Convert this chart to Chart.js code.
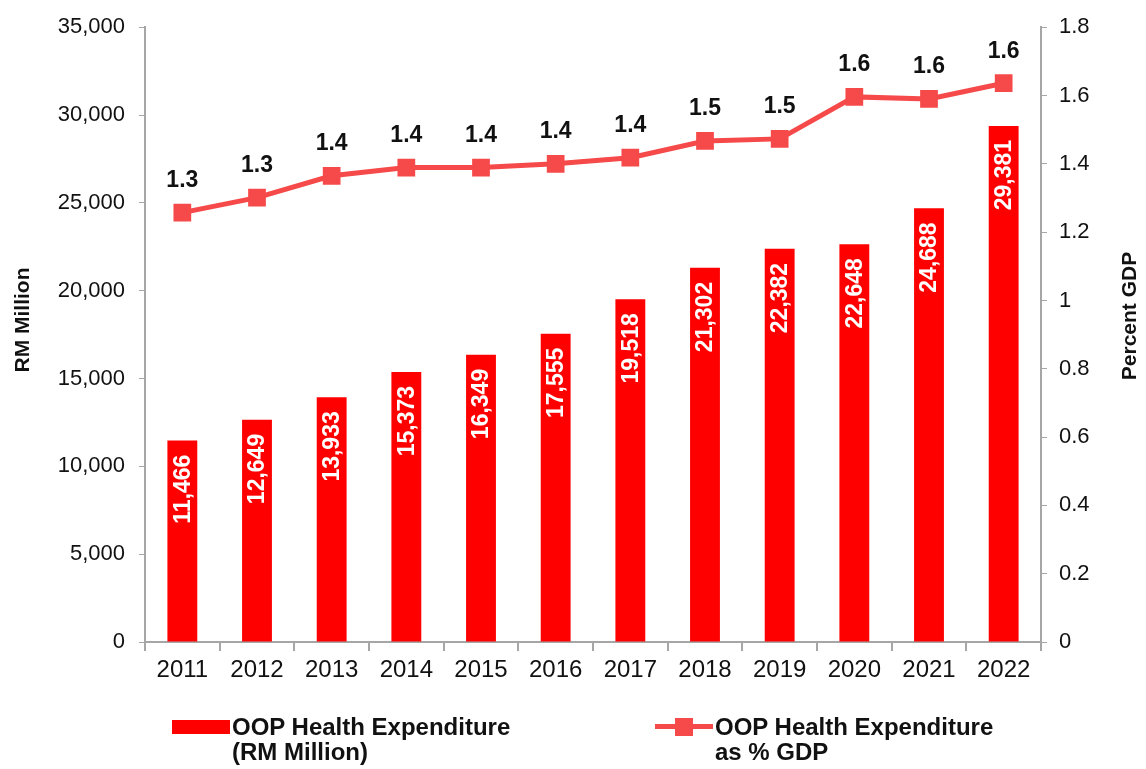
<!DOCTYPE html>
<html>
<head>
<meta charset="utf-8">
<script src="https://cdn.jsdelivr.net/npm/chart.js@4.4.1/dist/chart.umd.min.js"></script>
<style>
  html, body { margin: 0; padding: 0; background: #fff; }
  #wrap { position: relative; width: 1146px; height: 769px; }
  #legend { position: absolute; left: 0; top: 714px; width: 1146px; font-family: "Liberation Sans", Arial, sans-serif; font-weight: bold; font-size: 24px; line-height: 25px; color: #111; }
  .item { position: absolute; top: 0; display: flex; align-items: flex-start; }
  .swatch { width: 58px; height: 25px; position: relative; margin-right: 2px; }
</style>
</head>
<body>
<div id="wrap">
  <canvas id="myChart" width="1146" height="769"></canvas>
  <div id="legend">
    <div class="item" style="left:172px">
      <div class="swatch"><div style="position:absolute;left:0;top:6px;width:58px;height:14px;background:#ff0000"></div></div>
      <div>OOP Health Expenditure<br>(RM Million)</div>
    </div>
    <div class="item" style="left:655px">
      <div class="swatch"><div style="position:absolute;left:0;top:10px;width:58px;height:5px;background:#f64a4a"></div><div style="position:absolute;left:20px;top:4px;width:18px;height:18px;background:#f64a4a"></div></div>
      <div>OOP Health Expenditure<br>as % GDP</div>
    </div>
  </div>
</div>
<script>
var years = ["2011","2012","2013","2014","2015","2016","2017","2018","2019","2020","2021","2022"]
var oopSpend = [11466, 12649, 13933, 15373, 16349, 17555, 19518, 21302, 22382, 22648, 24688, 29381]
var pctGdp = [1.257, 1.301, 1.365, 1.389, 1.389, 1.400, 1.418, 1.467, 1.473, 1.596, 1.590, 1.636]

var axisGray = "#a6a6a6"
var tickFont = { family: "'Liberation Sans', Arial, sans-serif", size: 22 }

// value labels + rotated axis titles
var labelPlugin = {
  id: "labels",
  afterDatasetsDraw: function(chart) {
    var ctx = chart.ctx
    ctx.save()
    // bar labels, rotated, white, hanging from the bar top
    var bars = chart.getDatasetMeta(1).data
    ctx.font = "bold 23px 'Liberation Sans', Arial, sans-serif"
    ctx.fillStyle = "#ffffff"
    bars.forEach(function(b, i) {
      ctx.save()
      ctx.translate(b.x, b.y + 14)
      ctx.rotate(-Math.PI / 2)
      ctx.textAlign = "right"
      ctx.textBaseline = "middle"
      ctx.fillText(oopSpend[i].toLocaleString("en-US"), 0, 1)
      ctx.restore()
    })
    // line labels
    var pts = chart.getDatasetMeta(0).data
    ctx.fillStyle = "#111111"
    ctx.textAlign = "center"
    ctx.textBaseline = "middle"
    pts.forEach(function(p, i) {
      ctx.fillText(pctGdp[i].toFixed(1), p.x, p.y - 32)
    })
    // axis titles
    ctx.font = "bold 21px 'Liberation Sans', Arial, sans-serif"
    ctx.save()
    ctx.translate(23, 320)
    ctx.rotate(-Math.PI / 2)
    ctx.fillText("RM Million", 0, 0)
    ctx.restore()
    ctx.save()
    ctx.translate(1130, 316)
    ctx.rotate(-Math.PI / 2)
    ctx.fillText("Percent GDP", 0, 0)
    ctx.restore()
    ctx.restore()
  }
}

document.addEventListener("DOMContentLoaded", function() {
  var ctx = document.getElementById("myChart")
  var myChart = new Chart(ctx, {
    type: "bar",
    data: {
      labels: years,
      datasets: [
        {
          type: "line",
          label: "OOP Health Expenditure as % GDP",
          data: pctGdp,
          yAxisID: "y2",
          borderColor: "#f64a4a",
          backgroundColor: "#f64a4a",
          borderWidth: 5,
          pointStyle: "rect",
          pointRadius: 9,
          pointHoverRadius: 9,
          tension: 0,
          fill: false
        },
        {
          label: "OOP Health Expenditure (RM Million)",
          data: oopSpend,
          yAxisID: "y",
          backgroundColor: "#ff0000",
          barPercentage: 0.4,
          categoryPercentage: 1.0
        }
      ]
    },
    options: {
      responsive: false,
      animation: false,
      layout: { padding: { top: 17, left: 0, right: 0, bottom: 0 } },
      plugins: { legend: { display: false }, tooltip: { enabled: false } },
      scales: {
        x: {
          offset: true,
          grid: { display: true, drawOnChartArea: false, offset: true, color: axisGray, tickLength: 9, lineWidth: 2 },
          border: { color: axisGray, width: 2 },
          ticks: { color: "#111", font: { family: "'Liberation Sans', Arial, sans-serif", size: 24 }, padding: 5 },
          afterFit: function(s) { s.height = 127 }
        },
        y: {
          position: "left",
          min: 0, max: 35000,
          ticks: { stepSize: 5000, color: "#111", font: tickFont, padding: 14,
            callback: function(v) { return v.toLocaleString("en-US") } },
          grid: { display: true, drawOnChartArea: false, color: axisGray, tickLength: 6 },
          border: { color: axisGray, width: 2 },
          afterFit: function(s) { s.width = 145 }
        },
        y2: {
          position: "right",
          min: 0, max: 1.8,
          ticks: { stepSize: 0.2, color: "#111", font: tickFont, padding: 12,
            callback: function(v) { return String(+v.toFixed(1)) } },
          grid: { display: true, drawOnChartArea: false, color: axisGray, tickLength: 6 },
          border: { color: axisGray, width: 2 },
          afterFit: function(s) { s.width = 105 }
        }
      }
    },
    plugins: [labelPlugin]
  })
})
</script>
</body>
</html>
